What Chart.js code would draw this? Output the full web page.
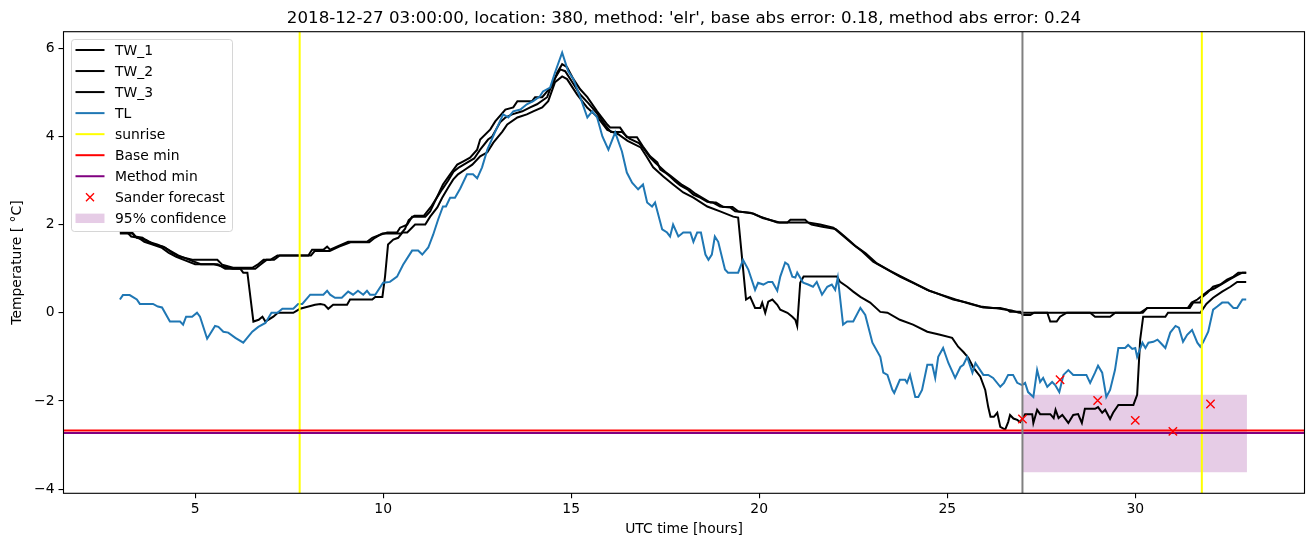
<!DOCTYPE html>
<html><head><meta charset="utf-8">
<script src="https://cdn.jsdelivr.net/npm/chart.js"></script>
<style>html,body{margin:0;padding:0;background:#fff;overflow:hidden}#wrap{position:relative;width:1313px;height:547px}</style>
</head><body><div id="wrap"><canvas id="c" width="1313" height="547"></canvas></div>
<script>
// ---------------- data ----------------
const titleText = "2018-12-27 03:00:00, location: 380, method: 'elr', base abs error: 0.18, method abs error: 0.24";
const xLabel = 'UTC time [hours]';
const yLabel = 'Temperature [ \u00b0C]';
const seriesLabels = ['TW_1','TW_2','TW_3','TL','sunrise','Base min','Method min','Sander forecast','95% confidence'];
const xTicks = [5,10,15,20,25,30];
const yTicks = [-4,-2,0,2,4,6];

const tlTime = [
3.00,3.08,3.26,3.36,3.45,3.53,3.88,4.01,4.12,4.33,
4.60,4.68,4.76,4.92,5.05,5.13,5.32,5.53,5.62,5.75,
5.88,6.07,6.28,6.52,6.68,6.87,7.03,7.19,7.32,7.61,
7.74,7.85,8.06,8.41,8.51,8.59,8.72,8.90,9.07,9.20,
9.33,9.47,9.57,9.65,9.79,10.00,10.18,10.37,10.53,10.77,
10.93,11.04,11.20,11.33,11.46,11.59,11.67,11.78,11.91,12.05,
12.23,12.39,12.50,12.63,12.77,12.98,13.19,13.33,13.46,13.65,
13.82,13.99,14.17,14.25,14.44,14.57,14.76,14.92,15.06,15.24,
15.43,15.56,15.69,15.83,15.99,16.17,16.35,16.48,16.62,16.78,
16.91,17.02,17.15,17.23,17.42,17.55,17.63,17.71,17.85,17.98,
18.17,18.25,18.35,18.45,18.57,18.65,18.74,18.82,18.91,19.09,
19.17,19.44,19.57,19.71,19.89,19.97,20.11,20.24,20.35,20.48,
20.56,20.69,20.77,20.88,20.96,21.01,21.17,21.30,21.43,21.53,
21.67,21.81,21.93,22.02,22.09,22.23,22.34,22.50,22.69,22.82,
23.01,23.22,23.30,23.41,23.54,23.59,23.74,23.88,23.93,24.01,
24.15,24.23,24.33,24.47,24.60,24.68,24.76,24.89,25.03,25.21,
25.35,25.43,25.53,25.67,25.75,25.96,26.09,26.22,26.41,26.51,
26.62,26.75,26.86,26.99,27.07,27.15,27.29,27.39,27.47,27.55,
27.66,27.79,27.87,27.98,28.09,28.22,28.35,28.70,28.80,28.93,
29.01,29.12,29.23,29.33,29.46,29.55,29.73,29.81,29.92,30.00,
30.05,30.19,30.27,30.35,30.48,30.59,30.67,30.80,30.93,31.07,
31.16,31.27,31.38,31.51,31.65,31.73,31.81,31.94,32.07,32.18,
32.31,32.47,32.61,32.71,32.85,32.95];
const tlTemp = [
0.30,0.40,0.40,0.35,0.30,0.20,0.20,0.14,0.12,-0.20,
-0.20,-0.27,-0.09,-0.09,0.00,-0.09,-0.59,-0.30,-0.32,-0.43,
-0.45,-0.57,-0.68,-0.43,-0.32,-0.23,0.00,0.00,0.09,0.09,
0.20,0.20,0.41,0.41,0.50,0.41,0.34,0.34,0.48,0.41,
0.50,0.41,0.50,0.41,0.41,0.68,0.70,0.82,1.09,1.41,
1.41,1.32,1.48,1.77,2.11,2.41,2.41,2.61,2.61,2.82,
3.14,3.14,3.05,3.30,3.70,4.11,4.50,4.43,4.57,4.61,
4.73,4.80,4.91,5.02,5.11,5.45,5.90,5.48,5.30,4.89,
4.43,4.57,4.43,4.00,3.70,4.09,3.66,3.18,2.95,2.80,
2.91,2.50,2.41,2.50,1.89,1.82,1.73,2.00,1.73,1.82,
1.82,1.61,1.82,1.82,1.32,1.20,1.32,1.73,1.61,0.98,
0.91,0.91,1.20,0.98,0.52,0.68,0.64,0.70,0.70,0.50,
0.82,1.14,1.09,0.82,0.80,0.91,0.68,0.64,0.59,0.70,
0.41,0.59,0.64,0.52,0.80,-0.27,-0.20,-0.20,0.11,-0.05,
-0.68,-1.00,-1.36,-1.41,-1.75,-1.82,-1.52,-1.52,-1.59,-1.41,
-1.91,-1.91,-1.75,-1.18,-1.18,-1.48,-1.00,-0.80,-1.14,-1.48,
-1.23,-1.18,-1.00,-1.36,-1.14,-1.41,-1.41,-1.48,-1.68,-1.59,
-1.41,-1.41,-1.59,-1.64,-1.59,-1.80,-1.91,-1.30,-1.57,-1.48,
-1.68,-1.57,-1.64,-1.80,-1.41,-1.30,-1.41,-1.41,-1.59,-1.36,
-1.20,-1.36,-1.91,-1.75,-1.30,-0.80,-0.80,-0.73,-0.82,-0.80,
-1.00,-0.68,-0.80,-0.68,-0.66,-0.61,-0.68,-0.80,-0.45,-0.30,
-0.34,-0.66,-0.50,-0.39,-0.68,-0.77,-0.66,-0.43,0.07,0.14,
0.23,0.23,0.11,0.11,0.30,0.30];

const tw1Time = [
3.00,3.32,3.40,3.60,3.75,3.99,4.20,4.39,4.60,4.95,
5.59,5.72,6.01,6.52,6.66,6.82,7.00,7.19,8.01,8.11,
8.41,8.51,8.59,8.77,9.07,9.57,9.71,9.92,10.11,10.37,
10.45,10.64,10.77,11.12,11.25,11.44,11.59,11.78,11.97,12.12,
12.31,12.50,12.58,12.85,12.98,13.25,13.46,13.57,13.96,14.04,
14.23,14.36,14.49,14.63,14.76,14.89,15.06,15.24,15.43,15.69,
15.96,16.04,16.30,16.48,16.75,16.91,17.10,17.29,17.37,17.50,
17.63,17.77,17.90,18.09,18.25,18.43,18.62,18.77,18.96,19.23,
19.36,19.76,20.03,20.48,20.75,20.83,21.22,21.30,21.62,21.97,
22.10,22.29,22.50,22.74,23.03,23.41,23.74,24.09,24.47,24.81,
25.16,25.53,25.88,26.22,26.41,26.59,26.67,26.94,27.01,27.21,
27.31,28.80,28.93,29.33,29.47,30.13,30.32,31.45,31.54,31.73,
31.78,31.91,32.07,32.26,32.44,32.61,32.74,32.95];
const tw1Temp = [
1.82,1.82,1.73,1.70,1.61,1.55,1.48,1.36,1.27,1.20,
1.20,1.09,1.02,1.02,1.09,1.20,1.20,1.30,1.30,1.43,
1.43,1.50,1.43,1.50,1.61,1.61,1.70,1.77,1.82,1.82,
1.93,2.00,2.18,2.18,2.30,2.64,2.91,3.14,3.36,3.43,
3.52,3.70,3.93,4.16,4.34,4.61,4.66,4.80,4.80,4.89,
4.89,5.02,5.14,5.45,5.64,5.57,5.30,5.07,4.89,4.57,
4.27,4.20,4.20,3.98,3.98,3.77,3.55,3.41,3.25,3.18,
3.09,2.98,2.89,2.80,2.68,2.61,2.52,2.50,2.41,2.39,
2.30,2.27,2.18,2.05,2.05,2.11,2.11,2.05,2.00,1.93,
1.84,1.70,1.55,1.39,1.16,0.98,0.82,0.68,0.52,0.41,
0.30,0.23,0.14,0.11,0.11,0.07,0.02,0.02,-0.05,-0.05,
0.00,0.00,-0.09,-0.09,0.00,0.00,0.11,0.11,0.23,0.23,
0.36,0.45,0.59,0.64,0.75,0.82,0.91,0.91];

const tw2Time = [
3.00,3.20,3.30,3.50,3.65,3.85,4.10,4.30,4.50,4.70,
5.00,5.50,5.75,6.00,6.60,6.75,6.90,7.10,7.25,8.08,
8.18,8.58,8.83,9.13,9.63,9.78,9.98,10.48,10.58,10.68,
10.83,11.08,11.27,11.42,11.57,11.73,11.87,12.02,12.22,12.42,
12.58,12.79,12.90,13.11,13.25,13.43,13.70,13.91,14.09,14.36,
14.52,14.71,14.84,15.03,15.24,15.46,15.71,15.91,16.06,16.35,
16.55,16.80,16.95,17.10,17.23,17.37,17.50,17.65,17.80,17.95,
18.15,18.30,18.50,18.70,18.85,19.04,19.29,19.44,19.84,20.09,
20.54,21.29,21.39,21.68,22.03,22.18,22.38,22.58,22.83,23.13,
23.48,23.82,24.17,24.52,24.87,25.22,25.62,25.96,26.31,26.71,
26.91,27.66,27.74,27.91,28.00,28.18,30.20,30.32,31.40,31.50,
31.65,31.80,31.95,32.10,32.30,32.50,32.70,32.85,32.95];
const tw2Temp = [
1.82,1.82,1.73,1.70,1.61,1.55,1.48,1.36,1.27,1.20,
1.10,1.10,1.05,1.00,1.00,1.10,1.20,1.20,1.30,1.30,
1.40,1.40,1.50,1.60,1.60,1.70,1.80,1.80,1.90,2.10,
2.20,2.20,2.40,2.60,2.80,3.00,3.20,3.30,3.40,3.50,
3.70,3.93,4.00,4.32,4.43,4.50,4.57,4.66,4.73,4.89,
5.25,5.52,5.48,5.23,4.95,4.75,4.50,4.25,4.10,4.10,
3.95,3.85,3.70,3.52,3.41,3.30,3.20,3.10,3.00,2.90,
2.80,2.70,2.60,2.50,2.50,2.40,2.40,2.30,2.25,2.15,
2.05,2.05,2.00,1.95,1.90,1.80,1.65,1.50,1.35,1.12,
0.95,0.80,0.65,0.50,0.40,0.30,0.20,0.12,0.10,0.05,
0.00,0.00,-0.20,-0.20,-0.09,0.00,0.00,0.11,0.11,0.23,
0.30,0.40,0.50,0.55,0.65,0.75,0.85,0.91,0.91];

const tw3Time = [
3.00,3.35,3.45,3.70,3.90,4.15,4.35,4.55,4.85,5.15,
5.60,5.80,6.20,6.28,6.39,6.55,6.69,6.79,6.87,7.08,
7.20,7.61,7.79,8.19,8.33,8.44,8.54,8.67,9.04,9.12,
9.71,9.79,9.98,10.05,10.13,10.27,10.40,10.51,10.64,10.85,
11.12,11.25,11.44,11.57,11.73,11.86,11.99,12.18,12.37,12.58,
12.77,12.93,13.17,13.30,13.57,13.82,13.99,14.23,14.39,14.57,
14.76,14.89,15.16,15.43,15.69,15.96,16.25,16.50,16.85,17.00,
17.18,17.45,17.71,17.98,18.25,18.62,18.96,19.31,19.44,19.65,
19.76,19.89,20.03,20.08,20.16,20.24,20.35,20.48,20.56,20.75,
20.88,20.96,21.01,21.09,21.18,22.07,22.15,22.34,22.50,22.69,
22.95,23.22,23.41,23.74,24.09,24.47,24.81,25.13,25.29,25.43,
25.56,25.70,25.88,26.01,26.09,26.15,26.24,26.33,26.41,26.54,
26.62,26.67,26.76,26.86,26.94,27.07,27.26,27.29,27.39,27.47,
27.74,27.83,27.88,27.96,28.06,28.22,28.35,28.48,28.58,28.66,
28.93,29.01,29.12,29.20,29.33,29.41,29.55,29.95,30.05,30.13,
30.21,30.80,30.87,31.73,31.89,32.07,32.31,32.53,32.71,32.95];
const tw3Temp = [
1.80,1.80,1.70,1.65,1.55,1.50,1.40,1.30,1.20,1.10,
1.10,1.00,1.00,0.91,0.91,-0.20,-0.16,-0.09,-0.20,-0.09,
0.00,0.00,0.09,0.18,0.20,0.18,0.09,0.18,0.18,0.30,
0.30,0.36,0.36,0.82,1.55,1.66,1.70,1.82,1.82,2.00,
2.00,2.18,2.39,2.61,2.84,3.02,3.14,3.25,3.36,3.55,
3.64,3.86,4.11,4.27,4.43,4.50,4.57,4.66,4.80,5.23,
5.36,5.30,4.95,4.65,4.45,4.15,4.05,3.90,3.75,3.55,
3.30,3.09,2.91,2.73,2.61,2.41,2.30,2.18,2.16,0.30,
0.36,0.11,0.11,0.23,0.00,0.25,0.30,0.18,0.07,0.00,
-0.09,-0.16,-0.30,0.68,0.82,0.82,0.70,0.59,0.48,0.36,
0.23,0.02,0.00,-0.16,-0.27,-0.43,-0.50,-0.57,-0.77,-0.89,
-1.02,-1.25,-1.45,-1.75,-2.14,-2.36,-2.36,-2.27,-2.59,-2.65,
-2.48,-2.32,-2.40,-2.43,-2.48,-2.30,-2.30,-2.50,-2.20,-2.30,
-2.30,-2.39,-2.20,-2.39,-2.32,-2.50,-2.32,-2.30,-2.50,-2.18,
-2.18,-2.14,-2.27,-2.20,-2.41,-2.27,-2.09,-2.09,-1.86,-0.61,
-0.09,-0.09,0.00,0.00,0.20,0.34,0.48,0.59,0.70,0.70];

const sunriseTimes = [7.78, 31.77];
const forecastTime = 27.0;
const baseMin = -2.67;
const methodMin = -2.73;
const sanderHours = [27, 28, 29, 30, 31, 32];
const sanderTemps = [-2.41, -1.52, -1.99, -2.44, -2.69, -2.07];
const confStart = 27.0, confEnd = 32.97;
const confLow = -3.62, confHigh = -1.86;

// ---------------- axis limits (matplotlib-like 5% margins) ----------------
const xMin = 1.5, xMax = 34.5;
const yMin = -4.096, yMax = 6.376;

// ---------------- chart ----------------
const FONT = 'DejaVu Sans';
const pts = (ts, vs) => ts.slice(0, Math.min(ts.length, vs.length)).map((t, i) => ({x: t, y: vs[i]}));
const lineDS = (label, data, color, extra) => Object.assign({
  label, data, showLine: true, borderColor: color, backgroundColor: color,
  borderWidth: 2, pointRadius: 0, tension: 0, fill: false
}, extra || {});

const datasets = [
  lineDS(seriesLabels[0], pts(tw1Time, tw1Temp), '#000000', {legendKind: 'line'}),
  lineDS(seriesLabels[1], pts(tw2Time, tw2Temp), '#000000', {legendKind: 'line'}),
  lineDS(seriesLabels[2], pts(tw3Time, tw3Temp), '#000000', {legendKind: 'line'}),
  lineDS(seriesLabels[3], pts(tlTime, tlTemp), '#1f77b4', {legendKind: 'line'}),
  lineDS(seriesLabels[4], [{x: sunriseTimes[0], y: yMin}, {x: sunriseTimes[0], y: yMax}], '#ffff00', {legendKind: 'line'}),
  lineDS(seriesLabels[4], [{x: sunriseTimes[1], y: yMin}, {x: sunriseTimes[1], y: yMax}], '#ffff00'),
  lineDS(seriesLabels[5], [{x: xMin, y: baseMin}, {x: xMax, y: baseMin}], '#ff0000', {legendKind: 'line'}),
  lineDS(seriesLabels[6], [{x: xMin, y: methodMin}, {x: xMax, y: methodMin}], '#800080', {legendKind: 'line'}),
  lineDS('forecast time', [{x: forecastTime, y: yMin}, {x: forecastTime, y: yMax}], '#808080'),
  {label: seriesLabels[7], data: pts(sanderHours, sanderTemps), showLine: false, pointStyle: 'crossRot',
   pointRadius: 5.9, pointBorderWidth: 1.4, borderColor: '#ff0000', backgroundColor: '#ff0000', legendKind: 'marker'},
  lineDS(seriesLabels[8], [{x: confStart, y: confHigh}, {x: confEnd, y: confHigh}], 'rgba(128,0,128,0)',
   {borderWidth: 0, fill: {value: confLow}, backgroundColor: 'rgba(128,0,128,0.2)', legendKind: 'patch'})
];
// matplotlib order: later lines on top; the filled band (zorder 1) sits below every line
datasets.forEach((d, i) => { d.order = 100 - i; });
datasets[datasets.length - 1].order = 1000;

const tickFont = {family: FONT, size: 13.9};
const minusFmt = v => (v < 0 ? '\u2212' + Math.abs(v) : String(v));

const decor = {
  id: 'mplDecor',
  afterDraw(chart) {
    const {ctx, chartArea: a} = chart;
    ctx.save();
    ctx.strokeStyle = '#000'; ctx.lineWidth = 1.1;
    ctx.strokeRect(a.left, a.top, a.right - a.left, a.bottom - a.top);
    ctx.fillStyle = '#000';
    ctx.font = '16.67px "' + FONT + '"';
    ctx.textAlign = 'center'; ctx.textBaseline = 'alphabetic';
    ctx.fillText(titleText, (a.left + a.right) / 2, a.top - 8.3);
    const bx = 71.5, by = 39.5, bw = 161, bh = 192, r = 3;
    ctx.beginPath();
    ctx.moveTo(bx + r, by); ctx.lineTo(bx + bw - r, by); ctx.arcTo(bx + bw, by, bx + bw, by + r, r);
    ctx.lineTo(bx + bw, by + bh - r); ctx.arcTo(bx + bw, by + bh, bx + bw - r, by + bh, r);
    ctx.lineTo(bx + r, by + bh); ctx.arcTo(bx, by + bh, bx, by + bh - r, r);
    ctx.lineTo(bx, by + r); ctx.arcTo(bx, by, bx + r, by, r); ctx.closePath();
    ctx.fillStyle = 'rgba(255,255,255,0.8)'; ctx.fill();
    ctx.strokeStyle = 'rgba(204,204,204,0.8)'; ctx.lineWidth = 1; ctx.stroke();
    const items = chart.data.datasets.filter(d => d.legendKind);
    ctx.font = '13.9px "' + FONT + '"';
    ctx.textAlign = 'left';
    items.forEach((d, k) => {
      const y = 50 + k * 21.04;
      if (d.legendKind === 'line') {
        ctx.strokeStyle = d.borderColor; ctx.lineWidth = 2;
        ctx.beginPath(); ctx.moveTo(75.5, y); ctx.lineTo(104.5, y); ctx.stroke();
      } else if (d.legendKind === 'marker') {
        ctx.strokeStyle = d.borderColor; ctx.lineWidth = 1.4;
        const s = 4;
        ctx.beginPath(); ctx.moveTo(90 - s, y - s); ctx.lineTo(90 + s, y + s);
        ctx.moveTo(90 - s, y + s); ctx.lineTo(90 + s, y - s); ctx.stroke();
      } else if (d.legendKind === 'patch') {
        ctx.fillStyle = d.backgroundColor;
        ctx.fillRect(75.5, y - 4.7, 29, 9.4);
      }
      ctx.fillStyle = '#000';
      ctx.fillText(d.label, 115, y + 5);
    });
    ctx.restore();
  }
};

new Chart(document.getElementById('c'), {
  type: 'scatter',
  data: {datasets},
  options: {
    responsive: false, animation: false, devicePixelRatio: 1,
    layout: {padding: {left: 0, right: 8.5, top: 31.7, bottom: 0}},
    plugins: {legend: {display: false}, tooltip: {enabled: false}, title: {display: false}},
    elements: {line: {tension: 0}},
    scales: {
      x: {
        type: 'linear', min: xMin, max: xMax,
        afterBuildTicks: s => { s.ticks = xTicks.map(v => ({value: v})); },
        afterFit: s => { s.height = 547 - 493.3; },
        ticks: {font: tickFont, color: '#000', padding: 3, autoSkip: false, maxRotation: 0, callback: minusFmt},
        grid: {drawOnChartArea: false, drawTicks: true, tickLength: 5, color: '#000', lineWidth: 1.1},
        border: {display: false},
        title: {display: true, text: xLabel, font: tickFont, color: '#000', padding: {top: 0, bottom: 9.7}}
      },
      y: {
        type: 'linear', min: yMin, max: yMax,
        afterBuildTicks: s => { s.ticks = yTicks.map(v => ({value: v})); },
        afterFit: s => { s.width = 63.5; },
        ticks: {font: tickFont, color: '#000', padding: 4, autoSkip: false, callback: minusFmt},
        grid: {drawOnChartArea: false, drawTicks: true, tickLength: 5, color: '#000', lineWidth: 1.1},
        border: {display: false},
        title: {display: true, text: yLabel, font: tickFont, color: '#000', padding: {top: 9, bottom: 0}}
      }
    }
  },
  plugins: [decor]
});
</script></body></html>
